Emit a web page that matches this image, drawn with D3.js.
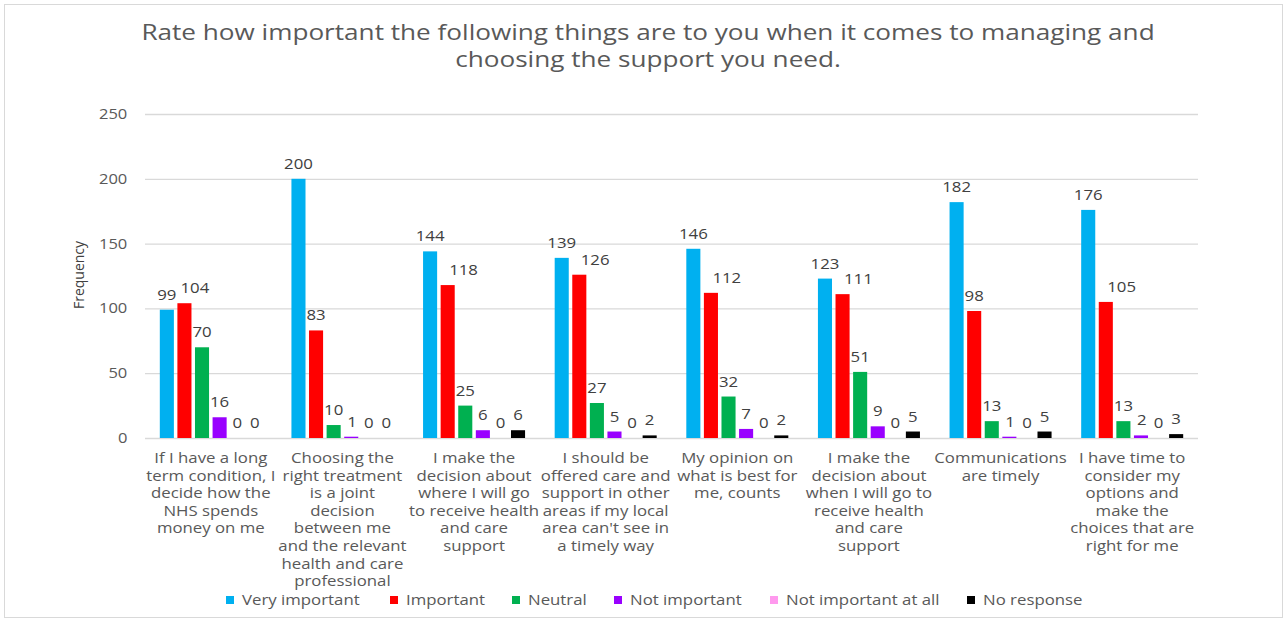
<!DOCTYPE html>
<html>
<head>
<meta charset="utf-8">
<script src="https://cdn.jsdelivr.net/npm/d3@7"></script>
<style>
  body { margin: 0; background: #fff; }
  svg { display: block; font-family: "Open Sans", sans-serif; }
</style>
</head>
<body>
<div id="chart"></div>
<script>
/*------------------------------------------*/
/*            Data                          */
/*------------------------------------------*/

var categories = [
  "If I have a long\nterm condition, I\ndecide how the\nNHS spends\nmoney on me",
  "Choosing the\nright treatment\nis a joint\ndecision\nbetween me\nand the relevant\nhealth and care\nprofessional",
  "I make the\ndecision about\nwhere I will go\nto receive health\nand care\nsupport",
  "I should be\noffered care and\nsupport in other\nareas if my local\narea can't see in\na timely way",
  "My opinion on\nwhat is best for\nme, counts",
  "I make the\ndecision about\nwhen I will go to\nreceive health\nand care\nsupport",
  "Communications\nare timely",
  "I have time to\nconsider my\noptions and\nmake the\nchoices that are\nright for me"
];

var seriesNames = ["Very important", "Important", "Neutral", "Not important",
                   "Not important at all", "No response"];

var veryImportant     = [99, 200, 144, 139, 146, 123, 182, 176],
    important         = [104, 83, 118, 126, 112, 111, 98, 105],
    neutral           = [70, 10, 25, 27, 32, 51, 13, 13],
    notImportant      = [16, 1, 6, 5, 7, 9, 1, 2],
    notImportantAtAll = [0, 0, 0, 0, 0, 0, 0, 0],
    noResponse        = [0, 0, 6, 2, 2, 5, 5, 3];

var yTicks = [0, 50, 100, 150, 200, 250];

var title = ["Rate how important the following things are to you when it comes to managing and",
             "choosing the support you need."];

/*------------------------------------------*/
/*            Constants                     */
/*------------------------------------------*/

var width = 1287, height = 621;
var plot = { left: 145, right: 1198, top: 114, bottom: 438 };
var colours = ["#00b0f0", "#ff0000", "#00b050", "#9900ff", "#ff99ee", "#000000"];
var seriesValues = [veryImportant, important, neutral, notImportant, notImportantAtAll, noResponse];

// the original text is drawn a little wide, so glyphs get stretched sideways
var stretch = 1.2;

var svg = d3.select("#chart").append("svg")
    .attr("width", width)
    .attr("height", height);

// outer chart border
svg.append("rect")
    .attr("x", 4.5).attr("y", 4.5)
    .attr("width", width - 9).attr("height", height - 8)
    .attr("fill", "none")
    .attr("stroke", "#d9d9d9");

/*------------------------------------------*/
/*            Scales                        */
/*------------------------------------------*/

var x0 = d3.scaleBand()
    .domain(d3.range(categories.length))
    .range([plot.left, plot.right])
    .paddingInner(0.225)
    .paddingOuter(0.1125);

var x1 = d3.scaleBand()
    .domain(d3.range(seriesNames.length))
    .range([0, x0.bandwidth()])
    .paddingInner(0.2);

var y = d3.scaleLinear()
    .domain([0, 250])
    .range([plot.bottom, plot.top]);

/*------------------------------------------*/
/*            Title                         */
/*------------------------------------------*/

svg.append("g").selectAll("g")
    .data(title)
    .enter().append("g")
    .attr("transform", function(d, i) { return "translate(648," + (40 + i * 27) + ")"; })
  .append("text")
    .attr("transform", "scale(1.245,1)")
    .attr("text-anchor", "middle")
    .attr("font-size", "21px")
    .attr("fill", "#595959")
    .text(function(d) { return d; });

/*------------------------------------------*/
/*            Grid and y axis               */
/*------------------------------------------*/

var yAxis = svg.append("g")
    .attr("transform", "translate(" + plot.left + ",0)")
    .call(d3.axisLeft(y).tickValues(yTicks).tickSize(-(plot.right - plot.left)).tickPadding(15));

yAxis.select(".domain").remove();
yAxis.selectAll(".tick line").attr("stroke", "#d9d9d9").attr("stroke-width", 1.3);
yAxis.selectAll(".tick text")
    .attr("transform", "scale(1.18,1)")
    .attr("fill", "#595959")
    .attr("font-size", "14px")
    .attr("font-family", "Open Sans, sans-serif");

svg.append("text")
    .attr("transform", "translate(84,275) rotate(-90)")
    .attr("text-anchor", "middle")
    .attr("font-size", "14px")
    .attr("fill", "#404040")
    .text("Frequency");

/*------------------------------------------*/
/*            Bars                          */
/*------------------------------------------*/

var barData = [];
categories.forEach(function(c, ci) {
  seriesValues.forEach(function(vals, si) {
    barData.push({ cat: ci, series: si, value: vals[ci] });
  });
});

var bars = svg.append("g");

bars.selectAll("rect")
    .data(barData)
    .enter().append("rect")
    .attr("x", function(d) { return x0(d.cat) + x1(d.series); })
    .attr("y", function(d) { return y(d.value); })
    .attr("width", x1.bandwidth())
    .attr("height", function(d) { return y(0) - y(d.value); })
    .attr("fill", function(d) { return colours[d.series]; });

/*------------------------------------------*/
/*            Data labels                   */
/*------------------------------------------*/

var labels = bars.selectAll("g.lab")
    .data(barData)
    .enter().append("g")
    .attr("class", "lab");

labels.append("text")
    .attr("transform", "scale(" + stretch + ",1)")
    .attr("text-anchor", "middle")
    .attr("font-size", "14px")
    .attr("fill", "#404040")
    .text(function(d) { return d.value; });

// nudge labels right when they would sit on the previous bar or label
var prev = null;
labels.each(function(d) {
  var w = this.querySelector("text").getComputedTextLength() * stretch,
      barX = x0(d.cat) + x1(d.series),
      base = y(d.value) - 10,
      left = barX + x1.bandwidth() / 2 - w / 2;

  if (prev && prev.cat === d.cat) {
    var prevBarRight = x0(d.cat) + x1(d.series - 1) + x1.bandwidth();
    if (y(prev.value) < base && left < prevBarRight - 2) left = prevBarRight + 12;
    if (Math.abs(prev.base - base) < 20 && left < prev.right + 4) left = prev.right + 4;
  }
  d3.select(this).attr("transform", "translate(" + (left + w / 2) + "," + base + ")");
  prev = { cat: d.cat, value: d.value, base: base, right: left + w };
});

/*------------------------------------------*/
/*            Category labels               */
/*------------------------------------------*/

var catLabels = svg.append("g").selectAll("g")
    .data(categories)
    .enter().append("g")
    .attr("transform", function(d, i) { return "translate(" + (x0(i) + x0.bandwidth() / 2) + ",463)"; })
  .append("text")
    .attr("transform", "scale(" + stretch + ",1)")
    .attr("text-anchor", "middle")
    .attr("font-size", "14px")
    .attr("fill", "#595959");

catLabels.selectAll("tspan")
    .data(function(d) { return d.split("\n"); })
    .enter().append("tspan")
    .attr("x", 0)
    .attr("dy", function(d, j) { return j === 0 ? 0 : 17.6; })
    .text(function(d) { return d; });

/*------------------------------------------*/
/*            Legend                        */
/*------------------------------------------*/

var legendX = [226, 390, 512, 614, 770, 967];

var legend = svg.append("g").selectAll("g")
    .data(seriesNames)
    .enter().append("g")
    .attr("transform", function(d, i) { return "translate(" + legendX[i] + ",601)"; });

legend.append("rect")
    .attr("x", 0).attr("y", -5)
    .attr("width", 8).attr("height", 8)
    .attr("fill", function(d, i) { return colours[i]; });

legend.append("text")
    .attr("transform", "translate(16,4) scale(" + stretch + ",1)")
    .attr("font-size", "14px")
    .attr("fill", "#595959")
    .text(function(d) { return d; });
</script>
</body>
</html>
